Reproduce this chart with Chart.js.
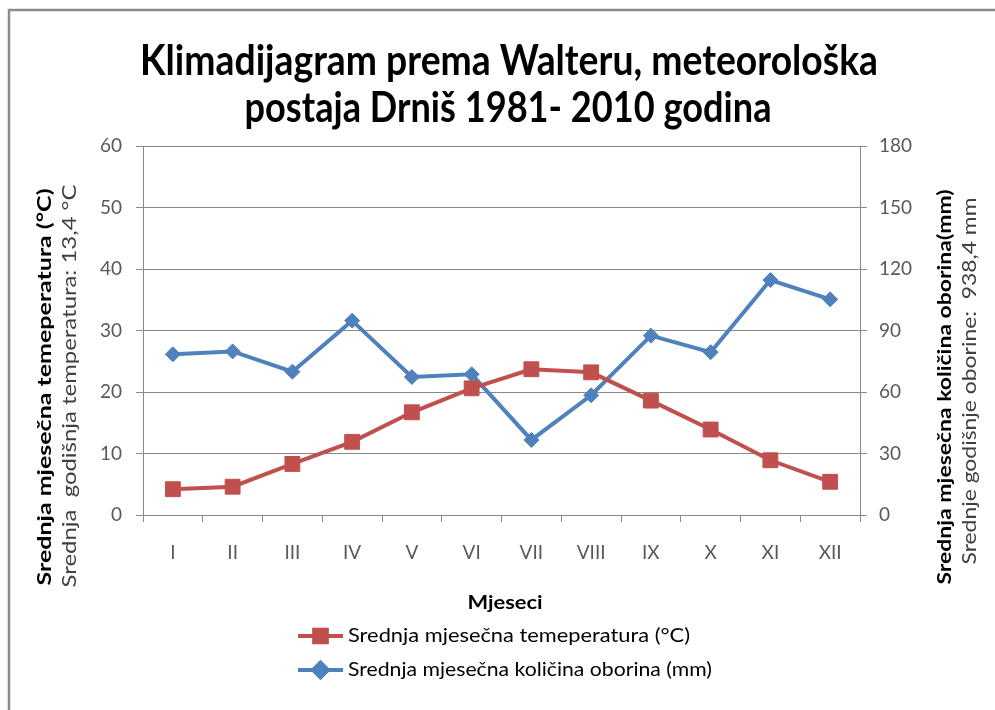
<!DOCTYPE html>
<html>
<head>
<meta charset="utf-8">
<script src="https://cdn.jsdelivr.net/npm/chart.js@4.4.0/dist/chart.umd.min.js"></script>
<style>
    html, body { margin: 0; padding: 0; background: #fff; }
    #wrap { width: 995px; height: 710px; }
</style>
</head>
<body>
<div id="wrap"><canvas id="myChart" width="995" height="710"></canvas></div>
<script>
const months = ["I", "II", "III", "IV", "V", "VI", "VII", "VIII", "IX", "X", "XI", "XII"];
const temperature = [4.2, 4.6, 8.3, 11.9, 16.7, 20.6, 23.7, 23.2, 18.6, 13.9, 8.9, 5.4];
const precipitation = [78.4, 79.8, 69.9, 94.8, 67.3, 68.6, 36.6, 58.4, 87.5, 79.4, 114.6, 105.2];
const tempTicks = [0, 10, 20, 30, 40, 50, 60];
const precipTicks = [0, 30, 60, 90, 120, 150, 180];

const titleLines = ["Klimadijagram prema Walteru, meteorološka", "postaja Drniš 1981- 2010 godina"];
const leftTitle = ["Srednja mjesečna temeperatura (°C)", "Srednja  godišnja temperatura: 13,4 °C"];
const rightTitle = ["Srednja mjesečna količina oborina(mm)", "Srednje godišnje oborine:  938,4 mm"];
const xTitle = "Mjeseci";

const RED = "#C0504D";
const BLUE = "#4F81BD";
const GRID = "#898989";
const FONT = "Lato, 'Open Sans', sans-serif";

// draw text squeezed/stretched to a given width (Calibri is narrower than what we have)
function fitText(ctx, text, x, y, width, font, color, rotate, align) {
    ctx.save();
    ctx.font = font;
    ctx.fillStyle = color;
    ctx.textBaseline = "middle";
    ctx.textAlign = align || "center";
    const sx = width / ctx.measureText(text).width;
    ctx.translate(x, y);
    if (rotate) ctx.rotate(-Math.PI / 2);
    ctx.scale(sx, 1);
    ctx.fillText(text, 0, 0);
    ctx.restore();
}

const decor = {
    id: "decor",
    beforeDraw(chart) {
        const ctx = chart.ctx;
        ctx.save();
        ctx.fillStyle = "#fff";
        ctx.fillRect(0, 0, chart.width, chart.height);
        // frame
        ctx.strokeStyle = "#8c8c8c";
        ctx.lineWidth = 2.5;
        ctx.beginPath();
        ctx.moveTo(9, chart.height);
        ctx.lineTo(9, 10);
        ctx.lineTo(chart.width, 10);
        ctx.stroke();
        ctx.restore();
    },
    afterDraw(chart) {
        const ctx = chart.ctx;
        // chart title
        fitText(ctx, titleLines[0], 509, 61, 738, "bold 42px " + FONT, "#000");
        fitText(ctx, titleLines[1], 508, 108, 527, "bold 42px " + FONT, "#000");
        // axis titles
        fitText(ctx, leftTitle[0], 45, 387, 397, "bold 19px " + FONT, "#000", true);
        fitText(ctx, leftTitle[1], 70, 386, 403, "19px " + FONT, "#404040", true);
        fitText(ctx, rightTitle[0], 945, 387, 395, "bold 19px " + FONT, "#000", true);
        fitText(ctx, rightTitle[1], 970, 381, 367, "19px " + FONT, "#404040", true);
        fitText(ctx, xTitle, 505, 603, 75, "bold 19px " + FONT, "#000");

        // legend, one item per row
        const rows = [636, 670];
        const widths = [342, 364];
        chart.data.datasets.forEach(function (ds, i) {
            const y = rows[i];
            ctx.save();
            ctx.strokeStyle = ds.borderColor;
            ctx.lineWidth = 4;
            ctx.beginPath();
            ctx.moveTo(298, y);
            ctx.lineTo(343, y);
            ctx.stroke();
            ctx.fillStyle = ds.backgroundColor;
            ctx.strokeStyle = ds.borderColor;
            Chart.helpers.drawPoint(ctx, {
                pointStyle: ds.pointStyle,
                radius: ds.pointStyle === "rect" ? 9 : 7.5,
                rotation: 0,
                borderWidth: 1
            }, 320.5, y);
            ctx.restore();
            fitText(ctx, ds.label, 348, y, widths[i], "19px " + FONT, "#000", false, "left");
        });
    }
};

const ctx = document.getElementById("myChart");

new Chart(ctx, {
    type: "line",
    data: {
        labels: months,
        datasets: [
            {
                label: "Srednja mjesečna temeperatura (°C)",
                data: temperature,
                yAxisID: "y",
                borderColor: RED,
                backgroundColor: RED,
                borderWidth: 4,
                pointStyle: "rect",
                pointRadius: 10.5,
                pointHoverRadius: 10.5,
                pointBorderWidth: 1,
                tension: 0
            },
            {
                label: "Srednja mjesečna količina oborina (mm)",
                data: precipitation,
                yAxisID: "y1",
                borderColor: BLUE,
                backgroundColor: BLUE,
                borderWidth: 4,
                pointStyle: "rectRot",
                pointRadius: 7.5,
                pointHoverRadius: 7.5,
                pointBorderWidth: 1,
                tension: 0
            }
        ]
    },
    options: {
        responsive: false,
        animation: false,
        devicePixelRatio: 1,
        layout: {
            padding: { left: 90, right: 75, top: 146, bottom: 145 }
        },
        plugins: {
            legend: { display: false },
            title: { display: false },
            tooltip: { enabled: false }
        },
        scales: {
            x: {
                offset: true,
                grid: {
                    offset: true,
                    drawOnChartArea: false,
                    color: GRID,
                    tickLength: 7
                },
                border: { color: GRID, width: 1 },
                ticks: {
                    color: "#595959",
                    padding: 19,
                    font: { family: FONT, size: 19 }
                },
                afterFit: function (scale) { scale.height = 50; }
            },
            y: {
                position: "left",
                min: tempTicks[0],
                max: tempTicks[tempTicks.length - 1],
                afterBuildTicks: function (scale) {
                    scale.ticks = tempTicks.map(v => ({ value: v }));
                },
                grid: { color: GRID, tickLength: 7 },
                border: { color: GRID, width: 1 },
                ticks: {
                    color: "#595959",
                    padding: 14,
                    font: { family: FONT, size: 19 }
                },
                afterFit: function (scale) { scale.width = 53; }
            },
            y1: {
                position: "right",
                min: precipTicks[0],
                max: precipTicks[precipTicks.length - 1],
                afterBuildTicks: function (scale) {
                    scale.ticks = precipTicks.map(v => ({ value: v }));
                },
                grid: { drawOnChartArea: false, color: GRID, tickLength: 7 },
                border: { color: GRID, width: 1 },
                ticks: {
                    color: "#595959",
                    padding: 12,
                    font: { family: FONT, size: 19 }
                },
                afterFit: function (scale) { scale.width = 60; }
            }
        }
    },
    plugins: [decor]
});
</script>
</body>
</html>
